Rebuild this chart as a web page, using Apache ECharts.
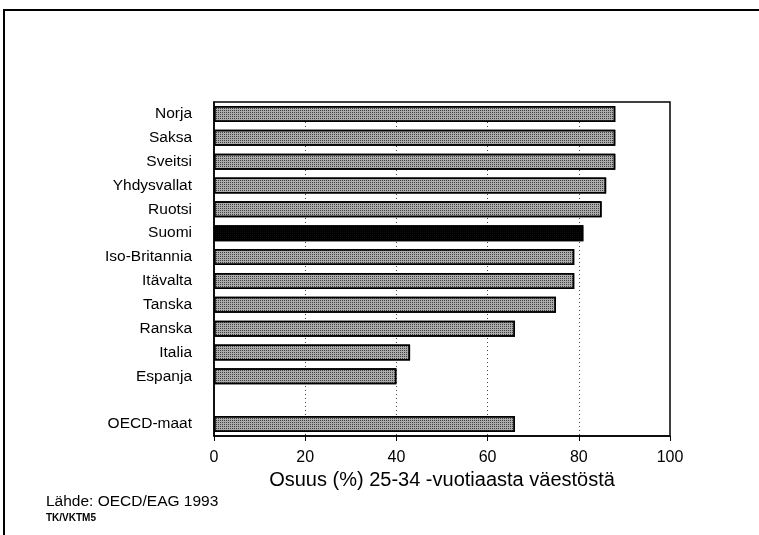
<!DOCTYPE html>
<html>
<head>
<meta charset="utf-8">
<script src="https://cdn.jsdelivr.net/npm/echarts@6/dist/echarts.min.js"></script>
<style>
  html, body { margin: 0; padding: 0; background: #fff; }
  #chart { width: 759px; height: 535px; }
</style>
</head>
<body>
<div id="chart"></div>
<script>
// categories top to bottom, '' is the empty gap row
const countries = ['Norja', 'Saksa', 'Sveitsi', 'Yhdysvallat', 'Ruotsi', 'Suomi',
    'Iso-Britannia', 'Itävalta', 'Tanska', 'Ranska', 'Italia', 'Espanja', '', 'OECD-maat'];
const shares = [88, 88, 88, 86, 85, 81, 79, 79, 75, 66, 43, 40, null, 66];
const highlight = 'Suomi';
const xTicks = [0, 20, 40, 60, 80, 100];
const axisTitle = 'Osuus (%) 25-34 -vuotiaasta väestöstä';
const sourceText = 'Lähde: OECD/EAG 1993';
const codeText = 'TK/VKTM5';

const font = '"Liberation Sans", Arial, sans-serif';
const chart = echarts.init(document.getElementById('chart'));

const stipple = {
    symbol: 'rect',
    symbolSize: 1,
    dashArrayX: [1, 1],
    dashArrayY: [1, 1],
    color: 'rgba(20,20,20,0.7)'
};

const barData = shares.map(function (v, i) {
    if (v === null) return '-';
    if (countries[i] === highlight) {
        return { value: v, itemStyle: { color: '#000', decal: null } };
    }
    return v;
});

chart.setOption({
    animation: false,
    textStyle: { fontFamily: font },
    grid: {
        left: 214,
        right: 89,
        top: 102,
        bottom: 99,
        show: true,
        borderColor: '#000',
        borderWidth: 1.5
    },
    xAxis: {
        type: 'value',
        min: xTicks[0],
        max: xTicks[xTicks.length - 1],
        interval: 20,
        name: axisTitle,
        nameLocation: 'middle',
        nameGap: 27,
        nameTextStyle: { fontSize: 20, color: '#000', fontFamily: font },
        axisLine: { show: true, lineStyle: { color: '#000', width: 1.5 } },
        axisTick: { show: true, inside: false, length: 5, lineStyle: { color: '#000' } },
        axisLabel: { fontSize: 16, color: '#000', margin: 14, fontFamily: font },
        splitLine: { show: true, lineStyle: { color: '#444', type: [1, 3], width: 1 } }
    },
    yAxis: {
        type: 'category',
        inverse: true,
        data: countries,
        axisLine: { show: true, lineStyle: { color: '#000', width: 1.5 } },
        axisTick: { show: false },
        axisLabel: { fontSize: 15.5, color: '#000', margin: 22, fontFamily: font }
    },
    series: [{
        type: 'bar',
        data: barData,
        barWidth: 16,
        itemStyle: {
            color: '#ababab',
            borderColor: '#000',
            borderWidth: 1.5,
            decal: stipple
        }
    }],
    graphic: [
        {
            type: 'polyline',
            shape: { points: [[4, 535], [4, 10], [759, 10]] },
            style: { stroke: '#000', lineWidth: 2, fill: null }
        },
        {
            type: 'text',
            left: 46,
            top: 494,
            style: { text: sourceText, font: '15.5px ' + font, fill: '#000' }
        },
        {
            type: 'text',
            left: 46,
            top: 513,
            style: { text: codeText, font: 'bold 10px ' + font, fill: '#000' }
        }
    ]
});
</script>
</body>
</html>
